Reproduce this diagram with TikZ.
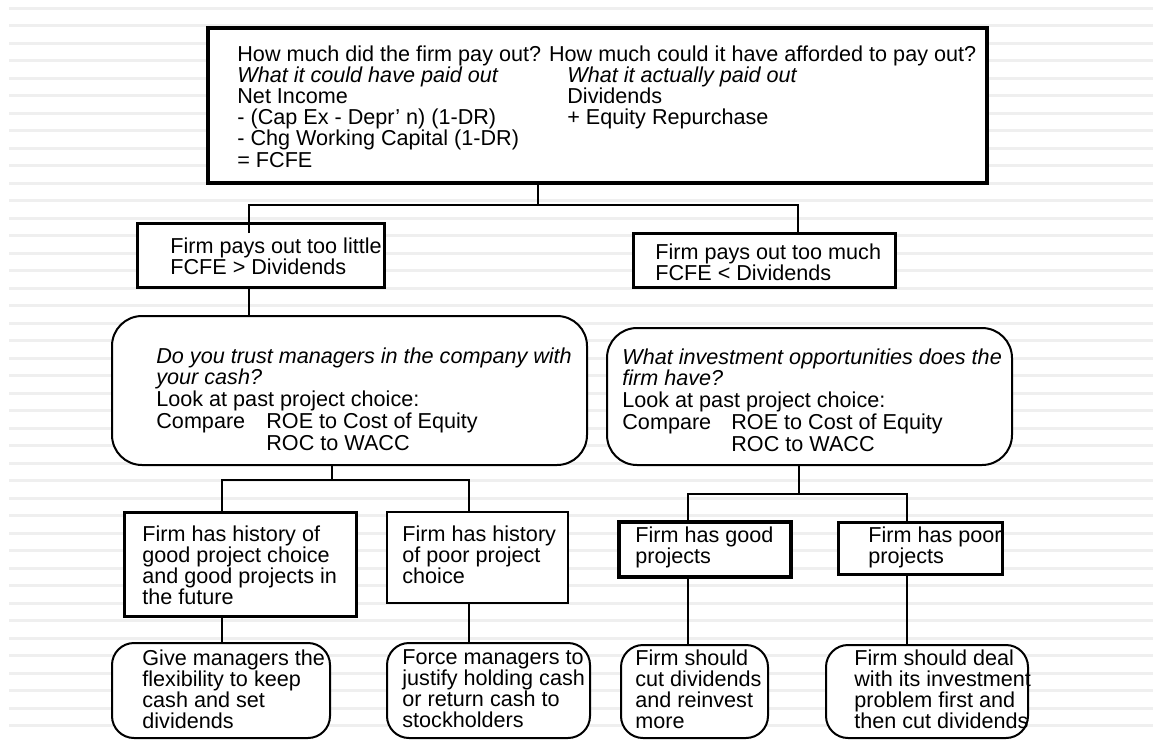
\documentclass[tikz,border=0pt]{standalone}
\usepackage{fontspec}
\setmainfont{Liberation Sans}
\usetikzlibrary{fit}
\definecolor{stripeGray}{HTML}{EFEFEF}

\begin{document}
\begin{tikzpicture}[x=0.5pt,y=-0.5pt,
    boxframe/.style={draw,fill=white,inner sep=0pt,line width=1.5pt},
    biground/.style={boxframe,line width=1pt,rounded corners=15pt},
    smallround/.style={boxframe,line width=1pt,rounded corners=11pt},
    txt/.style={anchor=north west,inner sep=0pt,align=left,
                font=\fontsize{10.8}{10.6}\selectfont},
    midtxt/.style={txt,font=\fontsize{10.8}{10.9}\selectfont},
    connector/.style={line width=1.2pt}]
    \useasboundingbox (0,0) rectangle (1153,740);
    % striped background
    \foreach \k in {0,...,41}
        \fill[stripeGray] (9,{8.3+17.5*\k-1.5}) rectangle (1153,{8.3+17.5*\k+1.5});
    % boxes
    \node[boxframe,line width=2pt,fit={(208,28) (987,183)}] (top) {};
    \node[boxframe,fit={(137,223) (384,287)}] (little) {};
    \node[boxframe,fit={(633,233) (895,287)}] (much) {};
    \node[biground,fit={(112,316) (587,465)}] (trust) {};
    \node[biground,fit={(607,328) (1012,465)}] (invest) {};
    \node[boxframe,fit={(124,512) (356,616)}] (goodhist) {};
    \node[boxframe,line width=1.25pt,fit={(387,512) (568,603)}] (poorhist) {};
    \node[boxframe,line width=1.75pt,fit={(619,522) (791,577)}] (goodproj) {};
    \node[boxframe,fit={(838,522) (1002,574)}] (poorproj) {};
    \node[smallround,fit={(112,643) (330,738)}] (flex) {};
    \node[smallround,fit={(387,643) (590,738)}] (force) {};
    \node[smallround,fit={(621,645) (768,738)}] (reinvest) {};
    \node[smallround,fit={(826,645) (1028,738)}] (deal) {};
    % texts
    \node[txt] (top-txt) at (237,45) {How much did the firm pay out? How much could it have afforded to pay out?\\
        \makebox[165pt][l]{\itshape What it could have paid out}\textit{What it actually paid out}\\
        \makebox[165pt][l]{Net Income}Dividends\\
        \makebox[165pt][l]{- (Cap Ex - Depr’ n) (1-DR)}+ Equity Repurchase\\
        - Chg Working Capital (1-DR)\\
        = FCFE};
    \node[txt] (little-txt) at (170,237) {Firm pays out too little\\FCFE > Dividends};
    \node[txt] (much-txt) at (655,243) {Firm pays out too much\\FCFE < Dividends};
    \node[midtxt] (trust-txt) at (156,347) {\textit{Do you trust managers in the company with}\\
        \textit{your cash?}\\
        Look at past project choice:\\
        \makebox[55pt][l]{Compare}ROE to Cost of Equity\\
        \hspace*{55pt}ROC to WACC};
    \node[midtxt] (invest-txt) at (622,348) {\textit{What investment opportunities does the}\\
        \textit{firm have?}\\
        Look at past project choice:\\
        \makebox[54.5pt][l]{Compare}ROE to Cost of Equity\\
        \hspace*{54.5pt}ROC to WACC};
    \node[txt] (goodhist-txt) at (142,525) {Firm has history of\\good project choice\\and good projects in\\the future};
    \node[txt] (poorhist-txt) at (402,525) {Firm has history\\of poor project\\choice};
    \node[txt] (goodproj-txt) at (635,526) {Firm has good\\projects};
    \node[txt] (poorproj-txt) at (868,526) {Firm has poor\\projects};
    \node[txt] (flex-txt) at (142,649) {Give managers the\\flexibility to keep\\cash and set\\dividends};
    \node[txt] (force-txt) at (402,649) {Force managers to\\justify holding cash\\or return cash to\\stockholders};
    \node[txt] (reinvest-txt) at (635,649) {Firm should\\cut dividends\\and reinvest\\more};
    \node[txt] (deal-txt) at (854,649) {Firm should deal\\with its investment\\problem first and\\then cut dividends};
    % connectors
    \coordinate (topfork) at (538,205);
    \coordinate (littlestem) at (249,205);
    \coordinate (muchstem) at (798,205);
    \coordinate (littletip) at (249,233);
    \draw[connector] (topfork |- top.south) -- (topfork);
    \draw[connector] (littletip) -- (littlestem) -- (muchstem) -- (muchstem |- much.north);
    \draw[connector] (littlestem |- little.south) -- (littlestem |- trust.north);
    \coordinate (trustfork) at (332,480);
    \coordinate (goodhiststem) at (222,480);
    \coordinate (poorhiststem) at (469,480);
    \draw[connector] (trustfork |- trust.south) -- (trustfork);
    \draw[connector] (goodhiststem |- goodhist.north) -- (goodhiststem) -- (poorhiststem) -- (poorhiststem |- poorhist.north);
    \draw[connector] (goodhiststem |- goodhist.south) -- (goodhiststem |- flex.north);
    \draw[connector] (poorhiststem |- poorhist.south) -- (poorhiststem |- force.north);
    \coordinate (investfork) at (799,494);
    \coordinate (goodprojstem) at (688,494);
    \coordinate (poorprojstem) at (907,494);
    \draw[connector] (investfork |- invest.south) -- (investfork);
    \draw[connector] (goodprojstem |- goodproj.north) -- (goodprojstem) -- (poorprojstem) -- (poorprojstem |- poorproj.north);
    \draw[connector] (goodprojstem |- goodproj.south) -- (goodprojstem |- reinvest.north);
    \draw[connector] (poorprojstem |- poorproj.south) -- (poorprojstem |- deal.north);
\end{tikzpicture}
\end{document}
